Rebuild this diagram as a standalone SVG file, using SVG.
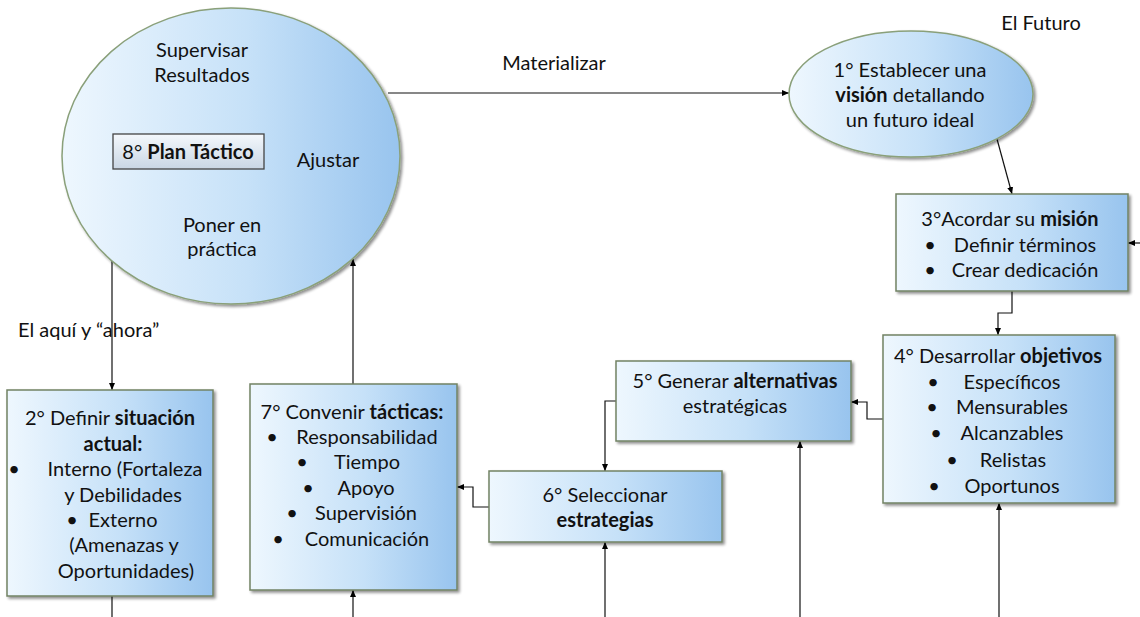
<svg xmlns="http://www.w3.org/2000/svg" width="1140" height="617" viewBox="0 0 1140 617">
<defs>
<linearGradient id="gb" x1="0" y1="0" x2="1" y2="0">
<stop offset="0" stop-color="#eef7fe"/>
<stop offset="0.55" stop-color="#c6e1f8"/>
<stop offset="1" stop-color="#98c4ee"/>
</linearGradient>
<linearGradient id="gp" x1="0" y1="0" x2="0" y2="1">
<stop offset="0" stop-color="#f4f8fc"/>
<stop offset="1" stop-color="#c9d6e4"/>
</linearGradient>
<filter id="sh" x="-10%" y="-10%" width="125%" height="125%">
<feGaussianBlur in="SourceAlpha" stdDeviation="1.5"/>
<feOffset dx="2" dy="2" result="b"/>
<feComponentTransfer><feFuncA type="linear" slope="0.45"/></feComponentTransfer>
<feMerge><feMergeNode/><feMergeNode in="SourceGraphic"/></feMerge>
</filter>
<marker id="ah" markerWidth="8" markerHeight="8" refX="7" refY="4" orient="auto" markerUnits="userSpaceOnUse">
<path d="M0,1 L7,4 L0,7 z" fill="#000"/>
</marker>
</defs>
<style>
text{font-family:Lato,"Noto Sans","Liberation Sans",sans-serif;font-size:20px;fill:#111;}
.c{text-anchor:middle;}
.b{font-weight:bold;}
.box{fill:url(#gb);stroke:#718264;stroke-width:1.5;filter:url(#sh);}
.ell{fill:url(#gb);stroke:#8aa07a;stroke-width:1.5;filter:url(#sh);}
.ln{fill:none;stroke:#111;stroke-width:1.2;}
</style>
<rect width="1140" height="617" fill="#fff"/>

<g id="connectors">
<path class="ln" d="M388,93 L789,93" marker-end="url(#ah)"/>
<path class="ln" d="M997,139 L1012,194" marker-end="url(#ah)"/>
<path class="ln" d="M1140,243 L1128,243" marker-end="url(#ah)"/>
<path class="ln" d="M1012,291 L1012,313 L998,313 L998,335" marker-end="url(#ah)"/>
<path class="ln" d="M883,419 L867,419 L867,402 L851,402" marker-end="url(#ah)"/>
<path class="ln" d="M616,401 L605,401 L605,471" marker-end="url(#ah)"/>
<path class="ln" d="M489,507 L473,507 L473,487 L457,487" marker-end="url(#ah)"/>
<path class="ln" d="M112,261 L112,390" marker-end="url(#ah)"/>
<path class="ln" d="M353,384 L353,259" marker-end="url(#ah)"/>
<path class="ln" d="M112,596 L112,617"/>
<path class="ln" d="M353,617 L353,590" marker-end="url(#ah)"/>
<path class="ln" d="M605,617 L605,542" marker-end="url(#ah)"/>
<path class="ln" d="M800,617 L800,441" marker-end="url(#ah)"/>
<path class="ln" d="M999,617 L999,503" marker-end="url(#ah)"/>
</g>

<g id="labels">
<text x="554" y="70" class="c">Materializar</text>
<text x="1041" y="30" class="c">El Futuro</text>
<text x="18" y="337">El aquí y “ahora”</text>
</g>

<g id="n8">
<ellipse class="ell" cx="231" cy="156" rx="169" ry="148"/>
<text x="202" y="57" class="c">Supervisar</text>
<text x="202" y="82" class="c">Resultados</text>
<rect x="113" y="134" width="151" height="35" fill="url(#gp)" stroke="#444" stroke-width="1.3"/>
<text x="188" y="159" class="c">8° <tspan class="b">Plan Táctico</tspan></text>
<text x="328" y="167" class="c">Ajustar</text>
<text x="222" y="232" class="c">Poner en</text>
<text x="222" y="256" class="c">práctica</text>
</g>

<g id="n1">
<ellipse class="ell" cx="911" cy="94" rx="122" ry="63"/>
<text x="910" y="77" class="c">1° Establecer una</text>
<text x="910" y="102" class="c"><tspan class="b">visión</tspan> detallando</text>
<text x="910" y="127" class="c">un futuro ideal</text>
</g>

<g id="n3">
<rect class="box" x="896" y="194" width="232" height="97"/>
<text x="1010" y="226" class="c">3°Acordar su <tspan class="b">misión</tspan></text>
<text x="930" y="252" class="c">•</text>
<text x="1025" y="252" class="c">Definir términos</text>
<text x="930" y="277" class="c">•</text>
<text x="1025" y="277" class="c">Crear dedicación</text>
</g>

<g id="n4">
<rect class="box" x="883" y="335" width="232" height="168"/>
<text x="998" y="363" class="c">4° Desarrollar <tspan class="b">objetivos</tspan></text>
<text x="933" y="389" class="c">•</text><text x="1012" y="389" class="c">Específicos</text>
<text x="932" y="414" class="c">•</text><text x="1012" y="414" class="c">Mensurables</text>
<text x="936" y="440" class="c">•</text><text x="1012" y="440" class="c">Alcanzables</text>
<text x="952" y="467" class="c">•</text><text x="1013" y="467" class="c">Relistas</text>
<text x="934" y="493" class="c">•</text><text x="1012" y="493" class="c">Oportunos</text>
</g>

<g id="n5">
<rect class="box" x="616" y="361" width="235" height="80"/>
<text x="735" y="388" class="c">5° Generar <tspan class="b">alternativas</tspan></text>
<text x="735" y="413" class="c">estratégicas</text>
</g>

<g id="n6">
<rect class="box" x="489" y="471" width="233" height="71"/>
<text x="605" y="502" class="c">6° Seleccionar</text>
<text x="605" y="527" class="c b">estrategias</text>
</g>

<g id="n7">
<rect class="box" x="250" y="384" width="207" height="206"/>
<text x="352" y="419" class="c">7° Convenir <tspan class="b">tácticas:</tspan></text>
<text x="272" y="444" class="c">•</text><text x="367" y="444" class="c">Responsabilidad</text>
<text x="302" y="469" class="c">•</text><text x="367" y="469" class="c">Tiempo</text>
<text x="308" y="495" class="c">•</text><text x="366" y="495" class="c">Apoyo</text>
<text x="292" y="520" class="c">•</text><text x="366" y="520" class="c">Supervisión</text>
<text x="278" y="546" class="c">•</text><text x="367" y="546" class="c">Comunicación</text>
</g>

<g id="n2">
<rect class="box" x="7" y="390" width="206" height="206"/>
<text x="110" y="425" class="c">2° Definir <tspan class="b">situación</tspan></text>
<text x="113" y="451" class="c b">actual:</text>
<text x="14" y="476" class="c">•</text><text x="125" y="476" class="c">Interno (Fortaleza</text>
<text x="123" y="502" class="c">y Debilidades</text>
<text x="72" y="527" class="c">•</text><text x="123" y="527" class="c">Externo</text>
<text x="124" y="552" class="c">(Amenazas y</text>
<text x="126" y="578" class="c">Oportunidades)</text>
</g>
</svg>
